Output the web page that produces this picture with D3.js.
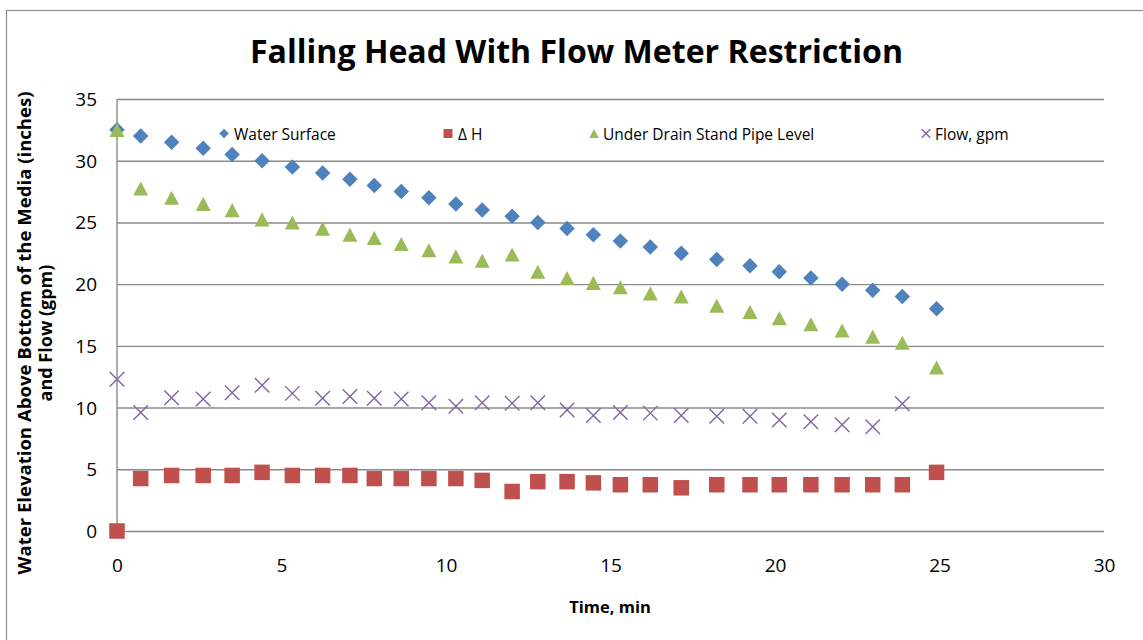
<!DOCTYPE html>
<html>
<head>
<meta charset="utf-8">
<script src="https://cdn.jsdelivr.net/npm/d3@7"></script>
<style>
  html, body { margin: 0; padding: 0; background: #fff; }
  svg { display: block; }
  text { font-family: "Open Sans", "Liberation Sans", sans-serif; fill: #000; }
</style>
</head>
<body>
<svg id="chart" width="1143" height="640"></svg>
<script>
// Elapsed time, minutes
const timeMin = [0, 0.72, 1.66, 2.62, 3.50, 4.41, 5.33, 6.25, 7.08, 7.82, 8.64, 9.48,
  10.30, 11.10, 12.01, 12.79, 13.68, 14.48, 15.30, 16.21, 17.15, 18.23, 19.24,
  20.13, 21.09, 22.04, 22.97, 23.87, 24.91];

// Water surface elevation, inches
const waterSurface = [32.5, 32, 31.5, 31, 30.5, 30, 29.5, 29, 28.5, 28, 27.5, 27,
  26.5, 26, 25.5, 25, 24.5, 24, 23.5, 23, 22.5, 22, 21.5, 21, 20.5, 20, 19.5, 19, 18];

// Head difference, inches
const deltaH = [0, 4.25, 4.5, 4.5, 4.5, 4.75, 4.5, 4.5, 4.5, 4.25, 4.25, 4.25,
  4.25, 4.1, 3.2, 4.0, 4.0, 3.9, 3.75, 3.75, 3.5, 3.75, 3.75, 3.75, 3.75, 3.75,
  3.75, 3.75, 4.75];

// Under drain stand pipe level, inches
const standPipe = [32.5, 27.75, 27, 26.5, 26, 25.25, 25, 24.5, 24, 23.75, 23.25,
  22.75, 22.25, 21.9, 22.4, 21, 20.5, 20.1, 19.75, 19.25, 19, 18.25, 17.75, 17.25,
  16.75, 16.25, 15.75, 15.25, 13.25];

// Flow, gpm (no reading at the final time)
const flowGpm = [12.3, 9.6, 10.8, 10.7, 11.2, 11.8, 11.15, 10.75, 10.9, 10.75, 10.7,
  10.4, 10.1, 10.4, 10.35, 10.4, 9.8, 9.35, 9.6, 9.55, 9.35, 9.3, 9.3, 9.0, 8.85,
  8.6, 8.45, 10.3];

const xTicks = [0, 5, 10, 15, 20, 25, 30];
const yTicks = [0, 5, 10, 15, 20, 25, 30, 35];

const seriesNames = ["Water Surface", "\u0394 H", "Under Drain Stand Pipe Level", "Flow, gpm"];
const titleText = "Falling Head With Flow Meter Restriction";
const xTitle = "Time, min";
const yTitle = ["Water Elevation Above Bottom of the Media (inches)", "and Flow (gpm)"];

const svg = d3.select("#chart");
const plot = { left: 117, right: 1104, top: 99, bottom: 531 };

const x = d3.scaleLinear().domain([0, 30]).range([plot.left, plot.right]);
const y = d3.scaleLinear().domain([0, 35]).range([plot.bottom, plot.top]);

const gridColor = "#8a8a8a";

// Chart frame
svg.append("rect")
  .attr("x", 6.5).attr("y", 10.5)
  .attr("width", 1300).attr("height", 800)
  .attr("fill", "#fff")
  .attr("stroke", "#8c8c8c").attr("stroke-width", 1.2);

// Title
svg.append("text")
  .attr("x", 576.5).attr("y", 63)
  .attr("text-anchor", "middle")
  .attr("font-size", 32).attr("font-weight", 700)
  .attr("textLength", 653).attr("lengthAdjust", "spacingAndGlyphs")
  .text(titleText);

// Horizontal gridlines via the y axis
const yAxis = d3.axisLeft(y).tickValues(yTicks).tickSize(-(plot.right - plot.left)).tickPadding(20);
const gy = svg.append("g").attr("transform", `translate(${plot.left},0)`).call(yAxis);
gy.select(".domain").remove();
gy.selectAll(".tick line").attr("stroke", gridColor).attr("stroke-width", 1.4);
gy.selectAll(".tick text")
  .attr("font-size", 19).attr("x", -20).attr("dy", "0.34em")
  .style("font-family", "'Open Sans', sans-serif").attr("fill", "#000");

// x axis labels
const xAxis = d3.axisBottom(x).tickValues(xTicks).tickSize(0).tickPadding(0);
const gx = svg.append("g").attr("transform", `translate(0,${plot.bottom})`).call(xAxis);
gx.select(".domain").remove();
gx.selectAll(".tick text")
  .attr("font-size", 19).attr("y", 41).attr("dy", 0)
  .style("font-family", "'Open Sans', sans-serif").attr("fill", "#000");

// Left axis line
svg.append("line")
  .attr("x1", plot.left).attr("x2", plot.left)
  .attr("y1", plot.top).attr("y2", plot.bottom)
  .attr("stroke", gridColor).attr("stroke-width", 1.4);

// Axis titles
svg.append("text")
  .attr("x", 610).attr("y", 613)
  .attr("text-anchor", "middle")
  .attr("font-size", 16.5).attr("font-weight", 700)
  .text(xTitle);

const yt = svg.append("text")
  .attr("transform", "translate(31,333) rotate(-90)")
  .attr("text-anchor", "middle")
  .attr("font-size", 18).attr("font-weight", 700);
yt.append("tspan").attr("x", 0).attr("y", 0)
  .attr("textLength", 483).attr("lengthAdjust", "spacingAndGlyphs")
  .text(yTitle[0]);
yt.append("tspan").attr("x", 0).attr("y", 21).text(yTitle[1]);

// Marker shapes, s = overall width in px
const shapes = {
  diamond: s => `M0,${-s/2}L${s/2},0L0,${s/2}L${-s/2},0Z`,
  square: s => `M${-s/2},${-s/2}h${s}v${s}h${-s}Z`,
  triangle: s => `M0,${-s*0.47}L${s/2},${s*0.47}L${-s/2},${s*0.47}Z`,
  cross: s => `M${-s/2},${-s/2}L${s/2},${s/2}M${s/2},${-s/2}L${-s/2},${s/2}`
};

const series = [
  { name: seriesNames[0], values: waterSurface, shape: "diamond", color: "#4f81bd", size: 15.5, leg: 9.5 },
  { name: seriesNames[1], values: deltaH, shape: "square", color: "#c0504d", size: 15.5, leg: 9 },
  { name: seriesNames[2], values: standPipe, shape: "triangle", color: "#9bbb59", size: 15, leg: 9.5 },
  { name: seriesNames[3], values: flowGpm, shape: "cross", color: "#8064a2", size: 14.5, leg: 8.5 }
];

function drawMarker(sel, s) {
  if (s.shape === "cross") {
    sel.attr("fill", "none").attr("stroke", s.color).attr("stroke-width", 1.4);
  } else {
    sel.attr("fill", s.color).attr("stroke", "none");
  }
}

// Data points, drawn in series order
series.forEach(s => {
  const pts = s.values.map((v, i) => ({ t: timeMin[i], v }));
  svg.append("g").selectAll("path").data(pts).join("path")
    .attr("transform", d => `translate(${x(d.t)},${y(d.v)})`)
    .attr("d", shapes[s.shape](s.size))
    .call(drawMarker, s);
});

// Legend inside the plot
const legendItems = [
  { mx: 224, tx: 234 },
  { mx: 448, tx: 458 },
  { mx: 594, tx: 603 },
  { mx: 926, tx: 935 }
];
const legendY = 133.5;
series.forEach((s, i) => {
  const li = legendItems[i];
  svg.append("path")
    .attr("transform", `translate(${li.mx},${legendY})`)
    .attr("d", shapes[s.shape](s.leg))
    .call(drawMarker, s);
  svg.append("text")
    .attr("x", li.tx).attr("y", 140)
    .attr("font-size", 15.5)
    .text(s.name);
});
</script>
</body>
</html>
